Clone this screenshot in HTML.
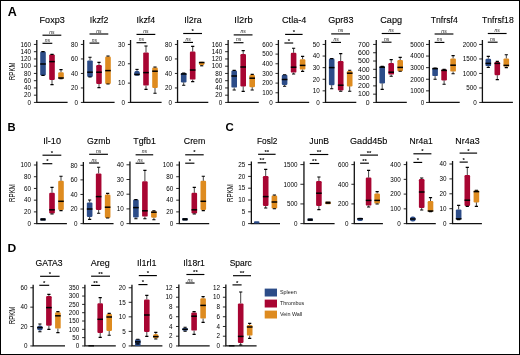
<!DOCTYPE html>
<html lang="en"><head><meta charset="utf-8"><title>Figure</title>
<style>
html,body{margin:0;padding:0;background:#fff;}
body{width:520px;height:355px;overflow:hidden;}
svg{display:block;font-family:"Liberation Sans",sans-serif;}
.tl{font-size:6.3px;fill:#000;text-anchor:end;}
.ti{font-size:8.4px;fill:#000;stroke:#000;stroke-width:0.1px;}
.pl{font-size:11px;font-weight:bold;fill:#000;}
.sg{font-size:5px;font-style:italic;fill:#111;text-anchor:middle;}
.st{font-size:6px;font-weight:bold;fill:#000;text-anchor:middle;}
.rp{font-size:8.8px;fill:#000;text-anchor:middle;}
.lg{font-size:5.9px;fill:#222;}
.ax{stroke:#111;stroke-width:1.3;fill:none;}
.tk{stroke:#111;stroke-width:0.9;fill:none;}
.wk{stroke:#000;stroke-width:1.1;fill:none;}
.wv{stroke:#222;stroke-width:0.85;fill:none;}
.md{stroke:#000;stroke-width:1.5;fill:none;}
.sb{stroke:#000;stroke-width:1.15;fill:none;}
</style></head>
<body>
<svg width="520" height="355" viewBox="0 0 520 355">
<rect x="0" y="0" width="520" height="355" fill="#fff"/>
<rect x="0.5" y="0.5" width="519" height="354" fill="none" stroke="#000" stroke-width="1"/>
<g>
<text class="ti" x="39.55" y="23.1" textLength="25.2" lengthAdjust="spacingAndGlyphs">Foxp3</text>
<path class="sb" d="M42.5 35.2H61.3"/>
<path class="sb" d="M42.5 43.3H52.3"/>
<text class="sg" x="51.9" y="33.7">ns</text>
<text class="sg" x="47.4" y="41.8">ns</text>
<path class="ax" d="M36.8 40.05V102.45H67.6"/>
<path class="tk" d="M33.9 102.45H36.8M33.9 95.2H36.8M33.9 87.95H36.8M33.9 80.7H36.8M33.9 73.45H36.8M33.9 66.2H36.8M33.9 58.95H36.8M33.9 51.7H36.8M33.9 44.45H36.8"/>
<text class="tl" x="31.05" y="104.7">0</text>
<text class="tl" x="31.05" y="97.45">20</text>
<text class="tl" x="31.05" y="90.2">40</text>
<text class="tl" x="31.05" y="82.95">60</text>
<text class="tl" x="31.05" y="75.7">80</text>
<text class="tl" x="31.05" y="68.45">100</text>
<text class="tl" x="31.05" y="61.2">120</text>
<text class="tl" x="31.05" y="53.95">140</text>
<text class="tl" x="31.05" y="46.7">160</text>
<rect x="40.2" y="51.6" width="5.6" height="23.8" rx="1.2" fill="#2c4c88"/>
<path class="wk" d="M41.4 51.6H44.6M41.4 75.4H44.6"/>
<path class="md" d="M40.2 64H45.8"/>
<rect x="49.2" y="54.4" width="5.6" height="25.6" rx="1.2" fill="#a80532"/>
<path class="wv" d="M52 80V84.6"/>
<path class="wk" d="M50.4 54.4H53.6M50.4 84.6H53.6"/>
<path class="md" d="M49.2 61.6H54.8"/>
<rect x="58.2" y="72.2" width="5.6" height="6.6" rx="1.2" fill="#de8b1f"/>
<path class="wv" d="M61 72.2V69.6"/>
<path class="wk" d="M59.4 69.6H62.6M59.4 78.8H62.6"/>
<path class="md" d="M58.2 78H63.8"/>
</g>
<g>
<text class="ti" x="89.8" y="23.1" textLength="18.55" lengthAdjust="spacingAndGlyphs">Ikzf2</text>
<path class="sb" d="M89.5 34H108.3"/>
<path class="sb" d="M89.5 43.1H99.3"/>
<text class="sg" x="98.9" y="32.5">ns</text>
<text class="sg" x="94.4" y="41.6">ns</text>
<path class="ax" d="M83.6 40.05V102.45H114.6"/>
<path class="tk" d="M80.9 102.45H83.6M80.9 87.95H83.6M80.9 73.45H83.6M80.9 58.95H83.6M80.9 44.45H83.6"/>
<text class="tl" x="78.05" y="104.7">0</text>
<text class="tl" x="78.05" y="90.2">20</text>
<text class="tl" x="78.05" y="75.7">40</text>
<text class="tl" x="78.05" y="61.2">60</text>
<text class="tl" x="78.05" y="46.7">80</text>
<rect x="87.2" y="60.4" width="5.6" height="16.6" rx="1.2" fill="#2c4c88"/>
<path class="wv" d="M90 60.4V57.2"/>
<path class="wk" d="M88.4 57.2H91.6M88.4 77H91.6"/>
<path class="md" d="M87.2 72.2H92.8"/>
<rect x="96.2" y="65" width="5.6" height="19" rx="1.2" fill="#a80532"/>
<path class="wv" d="M99 65V62.4M99 84V87.6"/>
<path class="wk" d="M97.4 62.4H100.6M97.4 87.6H100.6"/>
<path class="md" d="M96.2 72.2H101.8"/>
<rect x="105.2" y="56.6" width="5.6" height="27.4" rx="1.2" fill="#de8b1f"/>
<path class="wv" d="M108 56.6V56"/>
<path class="wk" d="M106.4 56H109.6M106.4 84H109.6"/>
<path class="md" d="M105.2 70.6H110.8"/>
</g>
<g>
<text class="ti" x="136.55" y="23.1" textLength="18.55" lengthAdjust="spacingAndGlyphs">Ikzf4</text>
<path class="sb" d="M136.5 34.4H155.3"/>
<path class="sb" d="M136.5 42.7H146.3"/>
<text class="sg" x="145.9" y="32.9">ns</text>
<text class="sg" x="141.4" y="41.2">ns</text>
<path class="ax" d="M130.55 40.05V102.45H161.6"/>
<path class="tk" d="M127.9 102.45H130.55M127.9 83.12H130.55M127.9 63.78H130.55M127.9 44.45H130.55"/>
<text class="tl" x="125.05" y="104.7">0</text>
<text class="tl" x="125.05" y="85.37">10</text>
<text class="tl" x="125.05" y="66.03">20</text>
<text class="tl" x="125.05" y="46.7">30</text>
<rect x="134.2" y="70.7" width="5.6" height="5.1" rx="2.55" fill="#2c4c88"/>
<path class="wv" d="M137 70.7V69.4"/>
<path class="wk" d="M135.4 69.4H138.6"/>
<path class="md" d="M134.2 74.5H139.8"/>
<rect x="143.2" y="52.4" width="5.6" height="33.2" rx="1.2" fill="#a80532"/>
<path class="wv" d="M146 52.4V46M146 85.6V89.4"/>
<path class="wk" d="M144.4 46H147.6M144.4 89.4H147.6"/>
<path class="md" d="M143.2 72.6H148.8"/>
<rect x="152.2" y="67.6" width="5.6" height="20.4" rx="1.2" fill="#de8b1f"/>
<path class="wv" d="M155 67.6V67M155 88V93.2"/>
<path class="wk" d="M153.4 67H156.6M153.4 93.2H156.6"/>
<path class="md" d="M152.2 71.2H157.8"/>
</g>
<g>
<text class="ti" x="184.35" y="23.1" textLength="17.35" lengthAdjust="spacingAndGlyphs">Il2ra</text>
<path class="sb" d="M183.2 33.5H202"/>
<path class="sb" d="M183.2 42.4H193"/>
<text class="st" x="192.6" y="33.15">*</text>
<text class="sg" x="188.1" y="40.9">ns</text>
<path class="ax" d="M177.55 40.05V102.45H208.3"/>
<path class="tk" d="M174.9 102.45H177.55M174.9 87.95H177.55M174.9 73.45H177.55M174.9 58.95H177.55M174.9 44.45H177.55"/>
<text class="tl" x="172.05" y="104.7">0</text>
<text class="tl" x="172.05" y="90.2">20</text>
<text class="tl" x="172.05" y="75.7">40</text>
<text class="tl" x="172.05" y="61.2">60</text>
<text class="tl" x="172.05" y="46.7">80</text>
<rect x="180.9" y="73" width="5.6" height="9.4" rx="1.2" fill="#2c4c88"/>
<path class="wv" d="M183.7 82.4V85.2"/>
<path class="wk" d="M182.1 73H185.3M182.1 85.2H185.3"/>
<path class="md" d="M180.9 74H186.5"/>
<rect x="189.9" y="51.6" width="5.6" height="28" rx="1.2" fill="#a80532"/>
<path class="wv" d="M192.7 51.6V46.4M192.7 79.6V81.6"/>
<path class="wk" d="M191.1 46.4H194.3M191.1 81.6H194.3"/>
<path class="md" d="M189.9 70H195.5"/>
<rect x="198.9" y="61.8" width="5.6" height="3.4" rx="1.7" fill="#de8b1f"/>
<path class="wv" d="M201.7 65.2V65.8"/>
<path class="wk" d="M200.1 65.8H203.3"/>
<path class="md" d="M198.9 62.5H204.5"/>
</g>
<g>
<text class="ti" x="234.35" y="23.1" textLength="18.3" lengthAdjust="spacingAndGlyphs">Il2rb</text>
<path class="sb" d="M233.7 34.9H252.5"/>
<path class="sb" d="M233.7 42.7H243.5"/>
<text class="sg" x="243.1" y="33.4">ns</text>
<text class="sg" x="238.6" y="41.2">ns</text>
<path class="ax" d="M228.15 40.05V102.45H258.8"/>
<path class="tk" d="M225.1 102.45H228.15M225.1 95.2H228.15M225.1 87.95H228.15M225.1 80.7H228.15M225.1 73.45H228.15M225.1 66.2H228.15M225.1 58.95H228.15M225.1 51.7H228.15M225.1 44.45H228.15"/>
<text class="tl" x="222.25" y="104.7">0</text>
<text class="tl" x="222.25" y="97.45">20</text>
<text class="tl" x="222.25" y="90.2">40</text>
<text class="tl" x="222.25" y="82.95">60</text>
<text class="tl" x="222.25" y="75.7">80</text>
<text class="tl" x="222.25" y="68.45">100</text>
<text class="tl" x="222.25" y="61.2">120</text>
<text class="tl" x="222.25" y="53.95">140</text>
<text class="tl" x="222.25" y="46.7">160</text>
<rect x="231.4" y="70.4" width="5.6" height="17.2" rx="1.2" fill="#2c4c88"/>
<path class="wv" d="M234.2 87.6V90"/>
<path class="wk" d="M232.6 70.4H235.8M232.6 90H235.8"/>
<path class="md" d="M231.4 76H237"/>
<rect x="240.4" y="54" width="5.6" height="32.4" rx="1.2" fill="#a80532"/>
<path class="wv" d="M243.2 54V50.6M243.2 86.4V91.4"/>
<path class="wk" d="M241.6 50.6H244.8M241.6 91.4H244.8"/>
<path class="md" d="M240.4 67H246"/>
<rect x="249.4" y="75" width="5.6" height="12.2" rx="1.2" fill="#de8b1f"/>
<path class="wv" d="M252.2 75V74.4M252.2 87.2V90"/>
<path class="wk" d="M250.6 74.4H253.8M250.6 90H253.8"/>
<path class="md" d="M249.4 78.2H255"/>
</g>
<g>
<text class="ti" x="282.05" y="23.1" textLength="24.3" lengthAdjust="spacingAndGlyphs">Ctla-4</text>
<path class="sb" d="M285.1 34.4H302.6"/>
<path class="sb" d="M284.4 43H293.2"/>
<text class="st" x="293.85" y="34.05">*</text>
<text class="st" x="288.8" y="42.65">*</text>
<path class="ax" d="M278.4 40.05V102.45H309.2"/>
<path class="tk" d="M275.5 102.45H278.4M275.5 92.78H278.4M275.5 83.12H278.4M275.5 73.45H278.4M275.5 63.78H278.4M275.5 54.12H278.4M275.5 44.45H278.4"/>
<text class="tl" x="272.65" y="104.7">0</text>
<text class="tl" x="272.65" y="95.03">100</text>
<text class="tl" x="272.65" y="85.37">200</text>
<text class="tl" x="272.65" y="75.7">300</text>
<text class="tl" x="272.65" y="66.03">400</text>
<text class="tl" x="272.65" y="56.37">500</text>
<text class="tl" x="272.65" y="46.7">600</text>
<rect x="281.8" y="74.7" width="5.6" height="10.3" rx="1.2" fill="#2c4c88"/>
<path class="wv" d="M284.6 85V86.2"/>
<path class="wk" d="M283 74.7H286.2M283 86.2H286.2"/>
<path class="md" d="M281.8 79.5H287.4"/>
<rect x="290.8" y="52.8" width="5.6" height="19.8" rx="1.2" fill="#a80532"/>
<path class="wv" d="M293.6 52.8V48.2M293.6 72.6V74"/>
<path class="wk" d="M292 48.2H295.2M292 74H295.2"/>
<path class="md" d="M290.8 67.2H296.4"/>
<rect x="299.8" y="59.2" width="5.6" height="10.4" rx="1.2" fill="#de8b1f"/>
<path class="wv" d="M302.6 59.2V56.4M302.6 69.6V71.4"/>
<path class="wk" d="M301 56.4H304.2M301 71.4H304.2"/>
<path class="md" d="M299.8 65.4H305.4"/>
</g>
<g>
<text class="ti" x="328.2" y="23.1" textLength="25.25" lengthAdjust="spacingAndGlyphs">Gpr83</text>
<path class="sb" d="M331.2 33.9H350"/>
<path class="sb" d="M331.2 42.4H341"/>
<text class="sg" x="340.6" y="32.4">ns</text>
<text class="sg" x="336.1" y="40.9">ns</text>
<path class="ax" d="M325.55 40.05V102.45H356.3"/>
<path class="tk" d="M322.6 102.45H325.55M322.6 90.85H325.55M322.6 79.25H325.55M322.6 67.65H325.55M322.6 56.05H325.55M322.6 44.45H325.55"/>
<text class="tl" x="319.75" y="104.7">0</text>
<text class="tl" x="319.75" y="93.1">10</text>
<text class="tl" x="319.75" y="81.5">20</text>
<text class="tl" x="319.75" y="69.9">30</text>
<text class="tl" x="319.75" y="58.3">40</text>
<text class="tl" x="319.75" y="46.7">50</text>
<rect x="328.9" y="58.6" width="5.6" height="26.6" rx="1.2" fill="#2c4c88"/>
<path class="wv" d="M331.7 85.2V88.8"/>
<path class="wk" d="M330.1 58.6H333.3M330.1 88.8H333.3"/>
<path class="md" d="M328.9 67.6H334.5"/>
<rect x="337.9" y="61" width="5.6" height="29.4" rx="1.2" fill="#a80532"/>
<path class="wv" d="M340.7 61V53.6M340.7 90.4V91.2"/>
<path class="wk" d="M339.1 53.6H342.3M339.1 91.2H342.3"/>
<path class="md" d="M337.9 85.2H343.5"/>
<rect x="346.9" y="71" width="5.6" height="15.4" rx="1.2" fill="#de8b1f"/>
<path class="wv" d="M349.7 71V70.2M349.7 86.4V91.2"/>
<path class="wk" d="M348.1 70.2H351.3M348.1 91.2H351.3"/>
<path class="md" d="M346.9 73.2H352.5"/>
</g>
<g>
<text class="ti" x="380.25" y="23.1" textLength="21.8" lengthAdjust="spacingAndGlyphs">Capg</text>
<path class="sb" d="M381.7 33.5H400.5"/>
<path class="sb" d="M381.7 42.2H391.5"/>
<text class="sg" x="391.1" y="32">ns</text>
<text class="sg" x="386.6" y="40.7">ns</text>
<path class="ax" d="M376.25 40.05V102.45H406.8"/>
<path class="tk" d="M373.1 102.45H376.25M373.1 94.16H376.25M373.1 85.88H376.25M373.1 77.59H376.25M373.1 69.31H376.25M373.1 61.02H376.25M373.1 52.74H376.25M373.1 44.45H376.25"/>
<text class="tl" transform="translate(369.65 104.7) scale(1.1 1)">0</text>
<text class="tl" transform="translate(369.65 96.41) scale(1.1 1)">100</text>
<text class="tl" transform="translate(369.65 88.13) scale(1.1 1)">200</text>
<text class="tl" transform="translate(369.65 79.84) scale(1.1 1)">300</text>
<text class="tl" transform="translate(369.65 71.56) scale(1.1 1)">400</text>
<text class="tl" transform="translate(369.65 63.27) scale(1.1 1)">500</text>
<text class="tl" transform="translate(369.65 54.99) scale(1.1 1)">600</text>
<text class="tl" transform="translate(369.65 46.7) scale(1.1 1)">700</text>
<rect x="379.4" y="66.4" width="5.6" height="17" rx="1.2" fill="#2c4c88"/>
<path class="wv" d="M382.2 83.4V89.4"/>
<path class="wk" d="M380.6 66.4H383.8M380.6 89.4H383.8"/>
<path class="md" d="M379.4 67.2H385"/>
<rect x="388.4" y="63" width="5.6" height="11.6" rx="1.2" fill="#a80532"/>
<path class="wv" d="M391.2 63V59.6M391.2 74.6V76.2"/>
<path class="wk" d="M389.6 59.6H392.8M389.6 76.2H392.8"/>
<path class="md" d="M388.4 72.2H394"/>
<rect x="397.4" y="60" width="5.6" height="11.2" rx="1.2" fill="#de8b1f"/>
<path class="wv" d="M400.2 60V57.4"/>
<path class="wk" d="M398.6 57.4H401.8M398.6 71.2H401.8"/>
<path class="md" d="M397.4 67.4H403"/>
</g>
<g>
<text class="ti" x="430.7" y="23.1" textLength="27.05" lengthAdjust="spacingAndGlyphs">Tnfrsf4</text>
<path class="sb" d="M434.6 34H453.4"/>
<path class="sb" d="M434.6 42.4H444.4"/>
<text class="sg" x="444" y="32.5">ns</text>
<text class="sg" x="439.5" y="40.9">ns</text>
<path class="ax" d="M429.35 40.05V102.45H459.7"/>
<path class="tk" d="M426 102.45H429.35M426 90.85H429.35M426 79.25H429.35M426 67.65H429.35M426 56.05H429.35M426 44.45H429.35"/>
<text class="tl" x="424.15" y="104.7">0</text>
<text class="tl" x="424.15" y="93.1">1000</text>
<text class="tl" x="424.15" y="81.5">2000</text>
<text class="tl" x="424.15" y="69.9">3000</text>
<text class="tl" x="424.15" y="58.3">4000</text>
<text class="tl" x="424.15" y="46.7">5000</text>
<rect x="432.3" y="68" width="5.6" height="8.1" rx="1.2" fill="#2c4c88"/>
<path class="wv" d="M435.1 76.1V79.2"/>
<path class="wk" d="M433.5 68H436.7M433.5 79.2H436.7"/>
<path class="md" d="M432.3 68.6H437.9"/>
<rect x="441.3" y="69.4" width="5.6" height="11" rx="1.2" fill="#a80532"/>
<path class="wv" d="M444.1 80.4V84.2"/>
<path class="wk" d="M442.5 69.4H445.7M442.5 84.2H445.7"/>
<path class="md" d="M441.3 70.4H446.9"/>
<rect x="450.3" y="58.4" width="5.6" height="13.2" rx="1.2" fill="#de8b1f"/>
<path class="wv" d="M453.1 58.4V55.6M453.1 71.6V73.8"/>
<path class="wk" d="M451.5 55.6H454.7M451.5 73.8H454.7"/>
<path class="md" d="M450.3 65.2H455.9"/>
</g>
<g>
<text class="ti" x="482.05" y="23.1" textLength="31.65" lengthAdjust="spacingAndGlyphs">Tnfrsf18</text>
<path class="sb" d="M487.8 33.5H506.6"/>
<path class="sb" d="M487.8 42.2H497.6"/>
<text class="sg" x="497.2" y="32">ns</text>
<text class="sg" x="492.7" y="40.7">ns</text>
<path class="ax" d="M482.4 40.05V102.45H512.9"/>
<path class="tk" d="M479.2 102.45H482.4M479.2 87.95H482.4M479.2 73.45H482.4M479.2 58.95H482.4M479.2 44.45H482.4"/>
<text class="tl" x="476.75" y="104.7">0</text>
<text class="tl" x="476.75" y="90.2">500</text>
<text class="tl" x="476.75" y="75.7">1000</text>
<text class="tl" x="476.75" y="61.2">1500</text>
<text class="tl" x="476.75" y="46.7">2000</text>
<rect x="485.5" y="58.7" width="5.6" height="7.4" rx="1.2" fill="#2c4c88"/>
<path class="wv" d="M488.3 58.7V56.4M488.3 66.1V67.4"/>
<path class="wk" d="M486.7 56.4H489.9M486.7 67.4H489.9"/>
<path class="md" d="M485.5 63.4H491.1"/>
<rect x="494.5" y="62" width="5.6" height="13.2" rx="1.2" fill="#a80532"/>
<path class="wv" d="M497.3 62V61.4M497.3 75.2V79.6"/>
<path class="wk" d="M495.7 61.4H498.9M495.7 79.6H498.9"/>
<path class="md" d="M494.5 63.4H500.1"/>
<rect x="503.5" y="58.4" width="5.6" height="8.2" rx="1.2" fill="#de8b1f"/>
<path class="wv" d="M506.3 58.4V54.8M506.3 66.6V67.6"/>
<path class="wk" d="M504.7 54.8H507.9M504.7 67.6H507.9"/>
<path class="md" d="M503.5 65.4H509.1"/>
</g>
<g>
<text class="ti" x="43.25" y="144.3" textLength="17.7" lengthAdjust="spacingAndGlyphs">Il-10</text>
<path class="sb" d="M42.5 155.2H61.3"/>
<path class="sb" d="M42.5 163.7H52.3"/>
<text class="st" x="51.9" y="154.85">*</text>
<text class="st" x="47.4" y="163.35">*</text>
<path class="ax" d="M36.8 161.5V223.6H66.9"/>
<path class="tk" d="M33.9 223.6H36.8M33.9 211.88H36.8M33.9 200.16H36.8M33.9 188.44H36.8M33.9 176.72H36.8M33.9 165H36.8"/>
<text class="tl" x="31.05" y="225.85">0</text>
<text class="tl" x="31.05" y="214.13">20</text>
<text class="tl" x="31.05" y="202.41">40</text>
<text class="tl" x="31.05" y="190.69">60</text>
<text class="tl" x="31.05" y="178.97">80</text>
<text class="tl" x="31.05" y="167.25">100</text>
<rect x="40.2" y="218.2" width="5.6" height="2.4" rx="1.2" fill="#2c4c88"/>
<path class="md" style="stroke-width:2.3" d="M40.5 219.4H45.5"/>
<rect x="49.2" y="192.8" width="5.6" height="20.6" rx="1.2" fill="#a80532"/>
<path class="wv" d="M52 192.8V187.4M52 213.4V214"/>
<path class="wk" d="M50.4 187.4H53.6M50.4 214H53.6"/>
<path class="md" d="M49.2 209.8H54.8"/>
<rect x="58.2" y="180.8" width="5.6" height="29.2" rx="1.2" fill="#de8b1f"/>
<path class="wv" d="M61 180.8V176.2M61 210V210.6"/>
<path class="wk" d="M59.4 176.2H62.6M59.4 210.6H62.6"/>
<path class="md" d="M58.2 201.3H63.8"/>
</g>
<g>
<text class="ti" x="87.05" y="144.3" textLength="23.3" lengthAdjust="spacingAndGlyphs">Gzmb</text>
<path class="sb" d="M89.15 154.3H107.95"/>
<path class="sb" d="M89.15 163H98.95"/>
<text class="sg" x="98.55" y="152.8">ns</text>
<text class="sg" x="94.05" y="161.5">ns</text>
<path class="ax" d="M83.35 162V223.6H113.55"/>
<path class="tk" d="M80.45 223.6H83.35M80.45 209.03H83.35M80.45 194.45H83.35M80.45 179.88H83.35M80.45 165.3H83.35"/>
<text class="tl" x="77.6" y="225.85">0</text>
<text class="tl" x="77.6" y="211.28">20</text>
<text class="tl" x="77.6" y="196.7">40</text>
<text class="tl" x="77.6" y="182.12">60</text>
<text class="tl" x="77.6" y="167.55">80</text>
<rect x="86.85" y="202.4" width="5.6" height="14.6" rx="1.2" fill="#2c4c88"/>
<path class="wv" d="M89.65 202.4V200M89.65 217V219.4"/>
<path class="wk" d="M88.05 200H91.25M88.05 219.4H91.25"/>
<path class="md" d="M86.85 209H92.45"/>
<rect x="95.85" y="173.4" width="5.6" height="36.6" rx="1.2" fill="#a80532"/>
<path class="wv" d="M98.65 173.4V167.3M98.65 210V213.3"/>
<path class="wk" d="M97.05 167.3H100.25M97.05 213.3H100.25"/>
<path class="md" d="M95.85 196.6H101.45"/>
<rect x="104.85" y="194.6" width="5.6" height="23.4" rx="1.2" fill="#de8b1f"/>
<path class="wv" d="M107.65 194.6V193.4"/>
<path class="wk" d="M106.05 193.4H109.25M106.05 218H109.25"/>
<path class="md" d="M104.85 207.2H110.45"/>
</g>
<g>
<text class="ti" x="133.3" y="144.3" textLength="22.55" lengthAdjust="spacingAndGlyphs">Tgfb1</text>
<path class="sb" d="M135.6 154.8H153.2"/>
<path class="sb" d="M135.6 163.2H144.5"/>
<text class="sg" x="144.4" y="153.3">ns</text>
<text class="sg" x="140.05" y="161.7">ns</text>
<path class="ax" d="M129.95 161.5V223.6H159.8"/>
<path class="tk" d="M126.5 223.6H129.95M126.5 208.9H129.95M126.5 194.2H129.95M126.5 179.5H129.95M126.5 164.8H129.95"/>
<text class="tl" x="123.65" y="225.85">0</text>
<text class="tl" x="123.65" y="211.15">10</text>
<text class="tl" x="123.65" y="196.45">20</text>
<text class="tl" x="123.65" y="181.75">30</text>
<text class="tl" x="123.65" y="167.05">40</text>
<rect x="133.1" y="199.6" width="5.6" height="17.8" rx="1.2" fill="#2c4c88"/>
<path class="wv" d="M135.9 217.4V218.8"/>
<path class="wk" d="M134.3 199.6H137.5M134.3 218.8H137.5"/>
<path class="md" d="M133.1 207.6H138.7"/>
<rect x="142.1" y="181.2" width="5.6" height="35.4" rx="1.2" fill="#a80532"/>
<path class="wv" d="M144.9 181.2V170.4M144.9 216.6V218.8"/>
<path class="wk" d="M143.3 170.4H146.5M143.3 218.8H146.5"/>
<path class="md" d="M142.1 210.8H147.7"/>
<rect x="151.1" y="211.2" width="5.6" height="6.6" rx="1.2" fill="#de8b1f"/>
<path class="wv" d="M153.9 211.2V210.8M153.9 217.8V219.8"/>
<path class="wk" d="M152.3 210.8H155.5M152.3 219.8H155.5"/>
<path class="md" d="M151.1 212.2H156.7"/>
</g>
<g>
<text class="ti" x="183.8" y="144.3" textLength="21.55" lengthAdjust="spacingAndGlyphs">Crem</text>
<path class="sb" d="M185.2 154.8H203.7"/>
<path class="sb" d="M185.2 163.2H194.4"/>
<text class="st" x="194.45" y="154.45">*</text>
<text class="st" x="189.8" y="162.85">*</text>
<path class="ax" d="M179.35 161.5V223.6H209.2"/>
<path class="tk" d="M176.2 223.6H179.35M176.2 211.88H179.35M176.2 200.16H179.35M176.2 188.44H179.35M176.2 176.72H179.35M176.2 165H179.35"/>
<text class="tl" x="173.35" y="225.85">0</text>
<text class="tl" x="173.35" y="214.13">20</text>
<text class="tl" x="173.35" y="202.41">40</text>
<text class="tl" x="173.35" y="190.69">60</text>
<text class="tl" x="173.35" y="178.97">80</text>
<text class="tl" x="173.35" y="167.25">100</text>
<rect x="182.2" y="218.1" width="5.6" height="2.4" rx="1.2" fill="#2c4c88"/>
<path class="md" style="stroke-width:2.3" d="M182.5 219.3H187.5"/>
<rect x="191.5" y="192.8" width="5.6" height="20.6" rx="1.2" fill="#a80532"/>
<path class="wv" d="M194.3 192.8V187.4M194.3 213.4V214"/>
<path class="wk" d="M192.7 187.4H195.9M192.7 214H195.9"/>
<path class="md" d="M191.5 209.8H197.1"/>
<rect x="200.5" y="180.8" width="5.6" height="29.2" rx="1.2" fill="#de8b1f"/>
<path class="wv" d="M203.3 180.8V176.2M203.3 210V210.6"/>
<path class="wk" d="M201.7 176.2H204.9M201.7 210.6H204.9"/>
<path class="md" d="M200.5 201.3H206.1"/>
</g>
<g>
<text class="ti" x="257.05" y="144.3" textLength="20.3" lengthAdjust="spacingAndGlyphs">Fosl2</text>
<path class="sb" d="M258.1 154.3H275.6"/>
<path class="sb" d="M257.7 162.8H266.1"/>
<text class="st" x="266.85" y="153.95">**</text>
<text class="st" x="261.9" y="162.45">**</text>
<path class="ax" d="M251.35 161.6V223.6H280"/>
<path class="tk" d="M248.1 223.6H251.35M248.1 211.8H251.35M248.1 200H251.35M248.1 188.2H251.35M248.1 176.4H251.35M248.1 164.6H251.35"/>
<text class="tl" x="245.25" y="225.85">0</text>
<text class="tl" x="245.25" y="214.05">5</text>
<text class="tl" x="245.25" y="202.25">10</text>
<text class="tl" x="245.25" y="190.45">15</text>
<text class="tl" x="245.25" y="178.65">20</text>
<text class="tl" x="245.25" y="166.85">25</text>
<rect x="253.9" y="221.2" width="5.6" height="2.4" rx="1.2" fill="#2c4c88"/>
<rect x="262.9" y="176" width="5.6" height="30" rx="1.2" fill="#a80532"/>
<path class="wv" d="M265.7 176V169.4M265.7 206V208"/>
<path class="wk" d="M264.1 169.4H267.3M264.1 208H267.3"/>
<path class="md" d="M262.9 196.6H268.5"/>
<rect x="271.6" y="195.6" width="5.6" height="12.8" rx="1.2" fill="#de8b1f"/>
<path class="wv" d="M274.4 195.6V195M274.4 208.4V208.8"/>
<path class="wk" d="M272.8 195H276M272.8 208.8H276"/>
<path class="md" d="M271.6 202H277.2"/>
</g>
<g>
<text class="ti" x="309.35" y="144.3" textLength="19.6" lengthAdjust="spacingAndGlyphs">JunB</text>
<path class="sb" d="M309.7 154.5H328.3"/>
<path class="sb" d="M309.7 163.5H319.2"/>
<text class="st" x="319" y="154.15">**</text>
<text class="st" x="314.45" y="163.15">**</text>
<path class="ax" d="M303.95 161.6V223.6H334.6"/>
<path class="tk" d="M300.4 223.6H303.95M300.4 203.93H303.95M300.4 184.27H303.95M300.4 164.6H303.95"/>
<text class="tl" x="297.55" y="225.85">0</text>
<text class="tl" x="297.55" y="206.18">500</text>
<text class="tl" x="297.55" y="186.52">1000</text>
<text class="tl" x="297.55" y="166.85">1500</text>
<rect x="307.4" y="218.5" width="5.6" height="2.4" rx="1.2" fill="#2c4c88"/>
<path class="md" style="stroke-width:2.3" d="M307.7 219.7H312.7"/>
<rect x="316.1" y="181" width="5.6" height="25" rx="1.2" fill="#a80532"/>
<path class="wv" d="M318.9 181V177M318.9 206V209.6"/>
<path class="wk" d="M317.3 177H320.5M317.3 209.6H320.5"/>
<path class="md" d="M316.1 193.2H321.7"/>
<rect x="325.2" y="201.8" width="5.6" height="2.4" rx="1.2" fill="#de8b1f"/>
<path class="md" style="stroke-width:2.3" d="M325.5 202.7H330.5"/>
</g>
<g>
<text class="ti" x="350.05" y="144.3" textLength="37.3" lengthAdjust="spacingAndGlyphs">Gadd45b</text>
<path class="sb" d="M360.1 155.1H378"/>
<path class="sb" d="M360.1 163.2H368.9"/>
<text class="st" x="369.05" y="154.75">**</text>
<text class="st" x="364.5" y="162.85">**</text>
<path class="ax" d="M354.3 161.6V223.6H382.9"/>
<path class="tk" d="M351.4 223.6H354.3M351.4 203.93H354.3M351.4 184.27H354.3M351.4 164.6H354.3"/>
<text class="tl" x="348.55" y="225.85">0</text>
<text class="tl" x="348.55" y="206.18">200</text>
<text class="tl" x="348.55" y="186.52">400</text>
<text class="tl" x="348.55" y="166.85">600</text>
<rect x="357.3" y="217.8" width="5.6" height="3.1" rx="1.55" fill="#2c4c88"/>
<path class="md" d="M357.3 218.7H362.9"/>
<rect x="365.8" y="177.6" width="5.6" height="28" rx="1.2" fill="#a80532"/>
<path class="wv" d="M368.6 177.6V170.4M368.6 205.6V207"/>
<path class="wk" d="M367 170.4H370.2M367 207H370.2"/>
<path class="md" d="M365.8 200.4H371.4"/>
<rect x="374.35" y="193.4" width="5.6" height="10.2" rx="1.2" fill="#de8b1f"/>
<path class="wv" d="M377.15 193.4V191.6M377.15 203.6V204"/>
<path class="wk" d="M375.55 191.6H378.75M375.55 204H378.75"/>
<path class="md" d="M374.35 200.4H379.95"/>
</g>
<g>
<text class="ti" x="409.55" y="144.3" textLength="23.3" lengthAdjust="spacingAndGlyphs">Nr4a1</text>
<path class="sb" d="M413.4 153.8H431.4"/>
<path class="sb" d="M413.4 162.4H422.2"/>
<text class="st" x="422.4" y="153.45">*</text>
<text class="st" x="417.8" y="162.05">*</text>
<path class="ax" d="M406.6 161.6V223.6H435.8"/>
<path class="tk" d="M403.7 223.6H406.6M403.7 208.85H406.6M403.7 194.1H406.6M403.7 179.35H406.6M403.7 164.6H406.6"/>
<text class="tl" x="400.85" y="225.85">0</text>
<text class="tl" x="400.85" y="211.1">100</text>
<text class="tl" x="400.85" y="196.35">200</text>
<text class="tl" x="400.85" y="181.6">300</text>
<text class="tl" x="400.85" y="166.85">400</text>
<rect x="410" y="216.6" width="5.6" height="5" rx="2.5" fill="#2c4c88"/>
<path class="md" d="M410 219H415.6"/>
<rect x="418.9" y="179" width="5.6" height="29" rx="1.2" fill="#a80532"/>
<path class="wv" d="M421.7 179V178M421.7 208V210"/>
<path class="wk" d="M420.1 178H423.3M420.1 210H423.3"/>
<path class="md" d="M418.9 192H424.5"/>
<rect x="427.7" y="201" width="5.6" height="10.6" rx="1.2" fill="#de8b1f"/>
<path class="wv" d="M430.5 201V197.6"/>
<path class="wk" d="M428.9 197.6H432.1M428.9 211.6H432.1"/>
<path class="md" d="M427.7 211H433.3"/>
</g>
<g>
<text class="ti" x="455.3" y="144.3" textLength="24.3" lengthAdjust="spacingAndGlyphs">Nr4a3</text>
<path class="sb" d="M459.6 153.1H477.1"/>
<path class="sb" d="M459.6 162.1H467.8"/>
<text class="st" x="468.35" y="152.75">*</text>
<text class="st" x="463.7" y="161.75">*</text>
<path class="ax" d="M452.55 161V223.6H481.9"/>
<path class="tk" d="M449.4 223.6H452.55M449.4 208.7H452.55M449.4 193.8H452.55M449.4 178.9H452.55M449.4 164H452.55"/>
<text class="tl" x="446.55" y="225.85">0</text>
<text class="tl" x="446.55" y="210.95">10</text>
<text class="tl" x="446.55" y="196.05">20</text>
<text class="tl" x="446.55" y="181.15">30</text>
<text class="tl" x="446.55" y="166.25">40</text>
<rect x="455.85" y="209.4" width="5.6" height="10.2" rx="1.2" fill="#2c4c88"/>
<path class="wv" d="M458.65 209.4V205.4"/>
<path class="wk" d="M457.05 205.4H460.25M457.05 219.6H460.25"/>
<path class="md" d="M455.85 218.8H461.45"/>
<rect x="464.5" y="175" width="5.6" height="31" rx="1.2" fill="#a80532"/>
<path class="wv" d="M467.3 175V167.4M467.3 206V206.4"/>
<path class="wk" d="M465.7 167.4H468.9M465.7 206.4H468.9"/>
<path class="md" d="M464.5 200.2H470.1"/>
<rect x="473.6" y="190.6" width="5.6" height="11.8" rx="1.2" fill="#de8b1f"/>
<path class="wv" d="M476.4 190.6V190.2M476.4 202.4V206.4"/>
<path class="wk" d="M474.8 190.2H478M474.8 206.4H478"/>
<path class="md" d="M473.6 191.6H479.2"/>
</g>
<g>
<text class="ti" x="35.6" y="265.6" textLength="27.1" lengthAdjust="spacingAndGlyphs">GATA3</text>
<path class="sb" d="M40.1 276.3H59.6"/>
<path class="sb" d="M39.3 285.3H49.2"/>
<text class="st" x="49.85" y="275.95">*</text>
<text class="st" x="44.25" y="284.95">*</text>
<path class="ax" d="M33.15 284.65V345.95H65"/>
<path class="tk" d="M30.3 345.95H33.15M30.3 326.55H33.15M30.3 307.15H33.15M30.3 287.75H33.15"/>
<text class="tl" x="27.45" y="348.2">0</text>
<text class="tl" x="27.45" y="328.8">20</text>
<text class="tl" x="27.45" y="309.4">40</text>
<text class="tl" x="27.45" y="290">60</text>
<rect x="37.1" y="325.4" width="5.6" height="5" rx="2.5" fill="#2c4c88"/>
<path class="wv" d="M39.9 325.4V324M39.9 330.4V331.8"/>
<path class="wk" d="M38.3 324H41.5M38.3 331.8H41.5"/>
<path class="md" d="M37.1 327.6H42.7"/>
<rect x="46.1" y="296" width="5.6" height="29.8" rx="1.2" fill="#a80532"/>
<path class="wv" d="M48.9 296V294.4M48.9 325.8V329.4"/>
<path class="wk" d="M47.3 294.4H50.5M47.3 329.4H50.5"/>
<path class="md" d="M46.1 307.6H51.7"/>
<rect x="55.1" y="312.2" width="5.6" height="16.4" rx="1.2" fill="#de8b1f"/>
<path class="wv" d="M57.9 312.2V311.6M57.9 328.6V332.6"/>
<path class="wk" d="M56.3 311.6H59.5M56.3 332.6H59.5"/>
<path class="md" d="M55.1 315.8H60.7"/>
</g>
<g>
<text class="ti" x="90.8" y="265.6" textLength="19.05" lengthAdjust="spacingAndGlyphs">Areg</text>
<path class="sb" d="M91.1 276.2H110"/>
<path class="sb" d="M91.1 285.4H100.1"/>
<text class="st" x="100.55" y="275.85">**</text>
<text class="st" x="95.6" y="285.05">**</text>
<path class="ax" d="M84.9 284.65V345.95H115.8"/>
<path class="tk" d="M82.1 345.95H84.9M82.1 337.64H84.9M82.1 329.32H84.9M82.1 321.01H84.9M82.1 312.69H84.9M82.1 304.38H84.9M82.1 296.06H84.9M82.1 287.75H84.9"/>
<text class="tl" x="79.25" y="348.2">0</text>
<text class="tl" x="79.25" y="339.89">50</text>
<text class="tl" x="79.25" y="331.57">100</text>
<text class="tl" x="79.25" y="323.26">150</text>
<text class="tl" x="79.25" y="314.94">200</text>
<text class="tl" x="79.25" y="306.63">250</text>
<text class="tl" x="79.25" y="298.31">300</text>
<text class="tl" x="79.25" y="290">350</text>
<path class="md" style="stroke-width:1.3" d="M88.4 345.8H94"/>
<rect x="97.4" y="303.3" width="5.6" height="29.7" rx="1.2" fill="#a80532"/>
<path class="wv" d="M100.2 303.3V297.6M100.2 333V337.4"/>
<path class="wk" d="M98.6 297.6H101.8M98.6 337.4H101.8"/>
<path class="md" d="M97.4 319.3H103"/>
<rect x="106.4" y="314" width="5.6" height="17" rx="1.2" fill="#de8b1f"/>
<path class="wv" d="M109.2 314V313.4M109.2 331V335.2"/>
<path class="wk" d="M107.6 313.4H110.8M107.6 335.2H110.8"/>
<path class="md" d="M106.4 317H112"/>
</g>
<g>
<text class="ti" x="137.05" y="265.6" textLength="19.55" lengthAdjust="spacingAndGlyphs">Il1rl1</text>
<path class="sb" d="M138.8 275.6H156.9"/>
<path class="sb" d="M138.4 284.6H147.5"/>
<text class="st" x="147.85" y="275.25">*</text>
<text class="st" x="142.95" y="284.25">*</text>
<path class="ax" d="M131.95 284.65V345.95H162.4"/>
<path class="tk" d="M128.7 345.95H131.95M128.7 331.4H131.95M128.7 316.85H131.95M128.7 302.3H131.95M128.7 287.75H131.95"/>
<text class="tl" x="125.85" y="348.2">0</text>
<text class="tl" x="125.85" y="333.65">5</text>
<text class="tl" x="125.85" y="319.1">10</text>
<text class="tl" x="125.85" y="304.55">15</text>
<text class="tl" x="125.85" y="290">20</text>
<rect x="135" y="339.2" width="5.6" height="6.8" rx="1.2" fill="#2c4c88"/>
<path class="wk" d="M136.2 339.2H139.4M136.2 343.9H139.4"/>
<path class="md" d="M135 341.9H140.6"/>
<rect x="144" y="299.4" width="5.6" height="32.6" rx="1.2" fill="#a80532"/>
<path class="wv" d="M146.8 299.4V295.4M146.8 332V336.4"/>
<path class="wk" d="M145.2 295.4H148.4M145.2 336.4H148.4"/>
<path class="md" d="M144 315H149.6"/>
<rect x="153" y="334" width="5.6" height="4.6" rx="2.3" fill="#de8b1f"/>
<path class="wv" d="M155.8 334V332.4M155.8 338.6V339"/>
<path class="wk" d="M154.2 332.4H157.4M154.2 339H157.4"/>
<path class="md" d="M153 336.6H158.6"/>
</g>
<g>
<text class="ti" x="183.3" y="265.6" textLength="21.55" lengthAdjust="spacingAndGlyphs">Il18r1</text>
<path class="sb" d="M186.4 274.5H204.4"/>
<path class="sb" d="M185.6 283H194.6"/>
<text class="st" x="195.4" y="274.15">**</text>
<text class="sg" x="190.1" y="281.5">ns</text>
<path class="ax" d="M178.85 284.4V345.95H209.7"/>
<path class="tk" d="M176 345.95H178.85M176 336.21H178.85M176 326.47H178.85M176 316.73H178.85M176 306.98H178.85M176 297.24H178.85M176 287.5H178.85"/>
<text class="tl" x="172.45" y="348.2">0</text>
<text class="tl" x="172.45" y="338.46">2</text>
<text class="tl" x="172.45" y="328.72">4</text>
<text class="tl" x="172.45" y="318.98">6</text>
<text class="tl" x="172.45" y="309.23">8</text>
<text class="tl" x="172.45" y="299.49">10</text>
<text class="tl" x="172.45" y="289.75">12</text>
<rect x="182.3" y="327.9" width="5.6" height="2.8" rx="1.4" fill="#2c4c88"/>
<path class="wv" d="M185.1 327.9V327.3M185.1 330.7V331.3"/>
<path class="wk" d="M183.5 327.3H186.7M183.5 331.3H186.7"/>
<path class="md" d="M182.3 329.3H187.9"/>
<rect x="191.3" y="312.4" width="5.6" height="18.2" rx="1.2" fill="#a80532"/>
<path class="wv" d="M194.1 312.4V311.6M194.1 330.6V334.4"/>
<path class="wk" d="M192.5 311.6H195.7M192.5 334.4H195.7"/>
<path class="md" d="M191.3 316.2H196.9"/>
<rect x="200.3" y="298.2" width="5.6" height="20.4" rx="1.2" fill="#de8b1f"/>
<path class="wv" d="M203.1 298.2V296.6M203.1 318.6V322.4"/>
<path class="wk" d="M201.5 296.6H204.7M201.5 322.4H204.7"/>
<path class="md" d="M200.3 305.4H205.9"/>
</g>
<g>
<text class="ti" x="229.65" y="265.6" textLength="22.2" lengthAdjust="spacingAndGlyphs">Sparc</text>
<path class="sb" d="M233 275.7H251"/>
<path class="sb" d="M232.5 284.9H241.6"/>
<text class="st" x="242" y="275.35">**</text>
<text class="st" x="237.05" y="284.55">*</text>
<path class="ax" d="M225.85 284.4V345.95H256.6"/>
<path class="tk" d="M222.9 345.95H225.85M222.9 336.21H225.85M222.9 326.47H225.85M222.9 316.73H225.85M222.9 306.98H225.85M222.9 297.24H225.85M222.9 287.5H225.85"/>
<text class="tl" x="220.05" y="348.2">0</text>
<text class="tl" x="220.05" y="338.46">2</text>
<text class="tl" x="220.05" y="328.72">4</text>
<text class="tl" x="220.05" y="318.98">6</text>
<text class="tl" x="220.05" y="309.23">8</text>
<text class="tl" x="220.05" y="299.49">10</text>
<text class="tl" x="220.05" y="289.75">12</text>
<path class="md" style="stroke-width:1.3" d="M228.9 345.8H234.5"/>
<rect x="237.9" y="303.4" width="5.6" height="39.6" rx="1.2" fill="#a80532"/>
<path class="wv" d="M240.7 303.4V292M240.7 343V345"/>
<path class="wk" d="M239.1 292H242.3M239.1 345H242.3"/>
<path class="md" d="M237.9 336.4H243.5"/>
<rect x="246.9" y="325" width="5.6" height="10.6" rx="1.2" fill="#de8b1f"/>
<path class="wv" d="M249.7 325V323.4M249.7 335.6V338.4"/>
<path class="wk" d="M248.1 323.4H251.3M248.1 338.4H251.3"/>
<path class="md" d="M246.9 327H252.5"/>
</g>
<text class="rp" transform="translate(11.65 71.25) rotate(-90) scale(0.7 1)" x="0" y="3.1">RPKM</text>
<text class="rp" transform="translate(11.65 193) rotate(-90) scale(0.7 1)" x="0" y="3.1">RPKM</text>
<text class="rp" transform="translate(229.65 193) rotate(-90) scale(0.7 1)" x="0" y="3.1">RPKM</text>
<text class="rp" transform="translate(11.65 315.4) rotate(-90) scale(0.7 1)" x="0" y="3.1">RPKM</text>
<text class="pl" transform="translate(7.7 15.7) scale(1.14 1.08)">A</text>
<text class="pl" transform="translate(7.4 130.9) scale(1.02 1.02)">B</text>
<text class="pl" transform="translate(225.6 131.3) scale(1.04 1.07)">C</text>
<text class="pl" transform="translate(7.6 252) scale(1.1 1)">D</text>
<rect x="264.7" y="288.6" width="12.3" height="7.9" fill="#2c4c88"/>
<text class="lg" transform="translate(279.9 294.3) scale(0.92 1)">Spleen</text>
<rect x="264.7" y="299.6" width="12.3" height="7.9" fill="#a80532"/>
<text class="lg" transform="translate(279.9 305.3) scale(0.92 1)">Thrombus</text>
<rect x="264.7" y="310.6" width="12.3" height="7.9" fill="#de8b1f"/>
<text class="lg" transform="translate(279.9 316.3) scale(0.92 1)">Vein Wall</text>
</svg>
</body></html>
